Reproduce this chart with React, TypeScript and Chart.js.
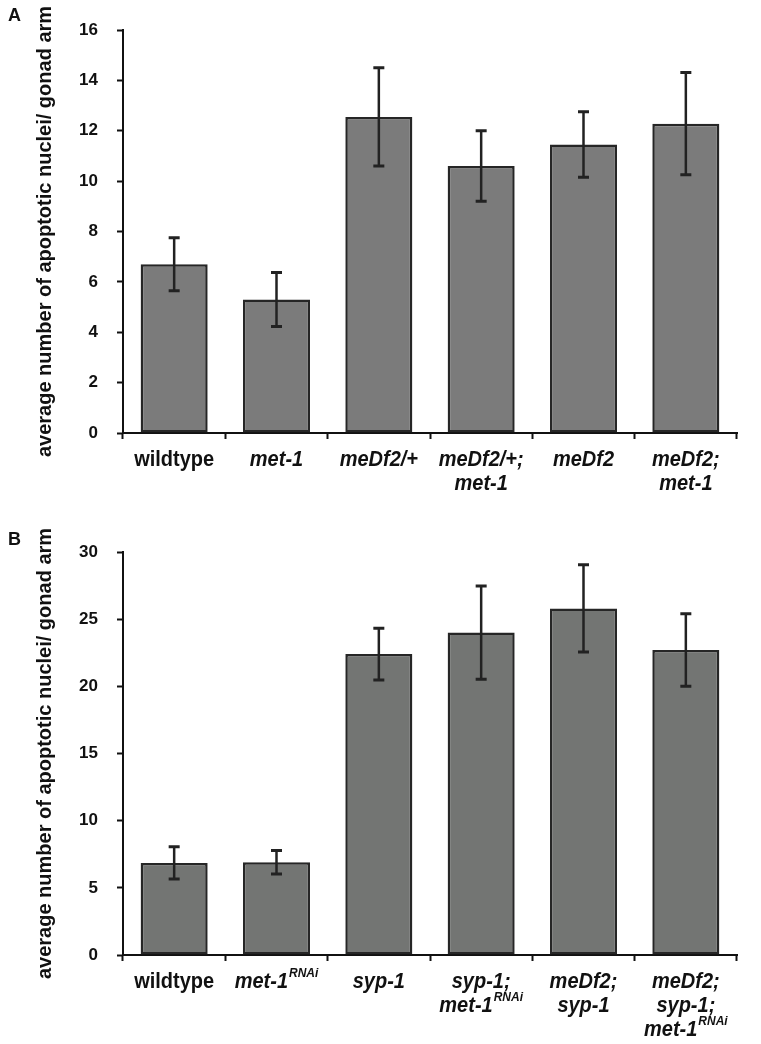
import { useEffect, useRef } from "react";
import { Chart, registerables } from "chart.js";
import type { Plugin } from "chart.js";

Chart.register(...registerables);

// panel A
const labelsA = ["wildtype", "met-1", "meDf2/+", "meDf2/+;\nmet-1", "meDf2", "meDf2;\nmet-1"];
const meansA = [6.7, 5.3, 12.55, 10.6, 11.45, 12.28];
const errorsA = [1.05, 1.07, 1.95, 1.4, 1.3, 2.03];
const maxA = 16;
const stepA = 2;

// panel B ("^" starts a superscript)
const labelsB = [
  "wildtype",
  "met-1^RNAi",
  "syp-1",
  "syp-1;\nmet-1^RNAi",
  "meDf2;\nsyp-1",
  "meDf2;\nsyp-1;\nmet-1^RNAi",
];
const meansB = [6.85, 6.9, 22.4, 24.0, 25.8, 22.7];
const errorsB = [1.2, 0.87, 1.92, 3.47, 3.25, 2.7];
const maxB = 30;
const stepB = 5;

const plainLabels = ["wildtype"];
const yTitle = "average number of apoptotic nuclei/ gonad arm";

const FONT = '"Liberation Sans", Arial, sans-serif';
const INK = "#111";

const errorBarPlugin: Plugin<"bar"> = {
  id: "errorBars",
  afterDatasetsDraw(chart, _args, opts: any) {
    const errs: number[] = opts.errors ?? [];
    const meta = chart.getDatasetMeta(0);
    const y = chart.scales.y;
    const ctx = chart.ctx;
    ctx.save();
    ctx.strokeStyle = "#222";
    meta.data.forEach((bar, i) => {
      const v = Number(chart.data.datasets[0].data[i]);
      const x = bar.x;
      const top = y.getPixelForValue(v + errs[i]);
      const bot = y.getPixelForValue(v - errs[i]);
      ctx.lineWidth = 2.5;
      ctx.beginPath();
      ctx.moveTo(x, top);
      ctx.lineTo(x, bot);
      ctx.stroke();
      ctx.lineWidth = 3;
      ctx.beginPath();
      ctx.moveTo(x - 5.5, top);
      ctx.lineTo(x + 5.5, top);
      ctx.moveTo(x - 5.5, bot);
      ctx.lineTo(x + 5.5, bot);
      ctx.stroke();
    });
    ctx.restore();
  },
};

// category labels drawn by hand so they can carry italics and superscripts
const xLabelPlugin: Plugin<"bar"> = {
  id: "xLabels",
  afterDraw(chart) {
    const labels = (chart.data.labels ?? []) as string[];
    const x = chart.scales.x;
    const ctx = chart.ctx;
    const base = chart.chartArea.bottom + 27;
    const stretch = 1.1;
    ctx.save();
    ctx.fillStyle = INK;
    ctx.textBaseline = "middle";
    ctx.textAlign = "left";
    labels.forEach((label, i) => {
      const cx = x.getPixelForValue(i);
      const italic = !plainLabels.includes(label);
      const mainFont = `${italic ? "italic " : ""}bold 20px ${FONT}`;
      const supFont = `italic bold 12px ${FONT}`;
      label.split("\n").forEach((line, j) => {
        const [main, sup] = line.split("^");
        const ly = base + j * 24;
        ctx.font = mainFont;
        const w1 = ctx.measureText(main).width;
        let w2 = 0;
        if (sup) {
          ctx.font = supFont;
          w2 = ctx.measureText(sup).width + 1;
        }
        const start = cx - (w1 + w2) / 2;
        ctx.save();
        ctx.translate(0, ly);
        ctx.scale(1, stretch);
        ctx.font = mainFont;
        ctx.fillText(main, start, 0);
        if (sup) {
          ctx.font = supFont;
          ctx.fillText(sup, start + w1 + 1, -8);
        }
        ctx.restore();
      });
    });
    ctx.restore();
  },
};

function BarPanel({
  labels,
  means,
  errors,
  max,
  step,
  fill,
}: {
  labels: string[];
  means: number[];
  errors: number[];
  max: number;
  step: number;
  fill: string;
}) {
  const canvasRef = useRef<HTMLCanvasElement | null>(null);

  useEffect(() => {
    const canvasElement = canvasRef.current;
    if (!canvasElement) {
      return;
    }

    const chart = new Chart(canvasElement, {
      type: "bar",
      data: {
        labels,
        datasets: [
          {
            data: means,
            backgroundColor: fill,
            borderColor: "#262626",
            borderWidth: 2.5,
            borderSkipped: false,
            categoryPercentage: 1,
            barPercentage: 0.655,
          },
        ],
      },
      options: {
        animation: false,
        responsive: true,
        maintainAspectRatio: false,
        layout: { padding: { top: 30, right: 24, left: 0, bottom: 0 } },
        scales: {
          x: {
            offset: true,
            grid: {
              offset: true,
              drawOnChartArea: false,
              drawTicks: true,
              tickLength: 6,
              tickWidth: 2,
              tickColor: INK,
            },
            border: { display: true, color: INK, width: 2 },
            ticks: { autoSkip: false, callback: () => "" },
            afterFit(scale) {
              scale.height = 89;
            },
          },
          y: {
            min: 0,
            max,
            grid: {
              drawOnChartArea: false,
              drawTicks: true,
              tickLength: 6,
              tickWidth: 2,
              tickColor: INK,
            },
            border: { display: true, color: INK, width: 2 },
            ticks: {
              stepSize: step,
              padding: 19,
              color: INK,
              font: { family: FONT, size: 17, weight: "bold" },
            },
            title: {
              display: true,
              text: yTitle,
              color: INK,
              padding: { top: 33, bottom: 0 },
              font: { family: FONT, size: 20, weight: "bold" },
            },
            afterFit(scale) {
              scale.width = 123;
            },
          },
        },
        plugins: {
          legend: { display: false },
          tooltip: { enabled: false },
          errorBars: { errors },
        } as any,
      },
      plugins: [errorBarPlugin, xLabelPlugin],
    });

    return () => {
      chart.destroy();
    };
  }, [labels, means, errors, max, step, fill]);

  return <canvas ref={canvasRef} />;
}

const letterStyle = {
  position: "absolute" as const,
  left: 8,
  fontFamily: FONT,
  fontWeight: "bold" as const,
  fontSize: 18,
  color: INK,
  lineHeight: "18px",
};

export default function App() {
  return (
    <div
      style={{
        position: "absolute",
        top: 0,
        left: 0,
        width: 761,
        height: 1044,
        background: "#fff",
      }}
    >
      <div style={{ position: "absolute", top: 0, left: 0, width: 761, height: 522 }}>
        <BarPanel labels={labelsA} means={meansA} errors={errorsA} max={maxA} step={stepA} fill="#7b7b7b" />
      </div>
      <div style={{ position: "absolute", top: 522, left: 0, width: 761, height: 522 }}>
        <BarPanel labels={labelsB} means={meansB} errors={errorsB} max={maxB} step={stepB} fill="#737573" />
      </div>
      <div style={{ ...letterStyle, top: 6 }}>A</div>
      <div style={{ ...letterStyle, top: 530 }}>B</div>
    </div>
  );
}
